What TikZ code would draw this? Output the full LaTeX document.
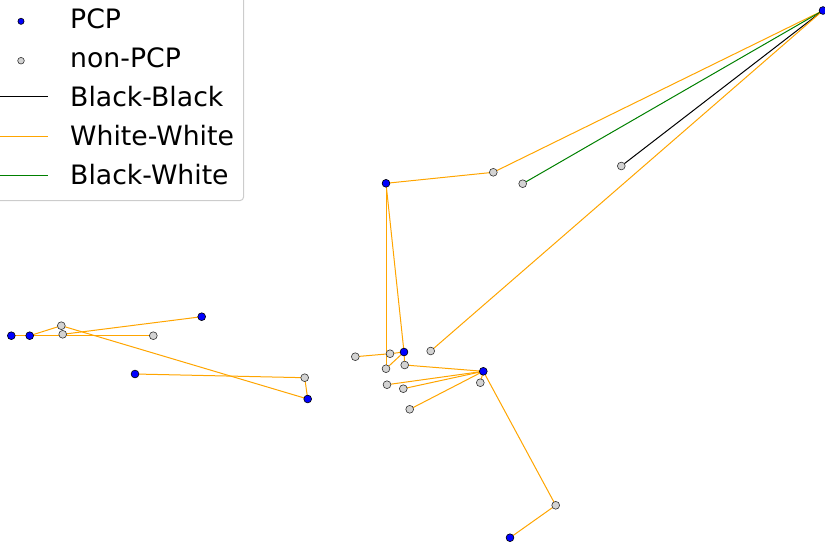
\documentclass[tikz,border=0pt]{standalone}
\usepackage{fontspec}
\setmainfont{DejaVu Sans}
\pgfdeclarelayer{background}
\pgfsetlayers{background,main}
\definecolor{ccpcp}{HTML}{0000FF}
\definecolor{ccnon}{HTML}{D3D3D3}
\definecolor{ccww}{HTML}{FFA500}
\definecolor{ccbw}{HTML}{008000}
\definecolor{ccbb}{HTML}{000000}
\definecolor{ccframe}{HTML}{CCCCCC}
\tikzset{
  pcp/.style={circle, fill=ccpcp, draw=black, line width=0.6pt, minimum size=7.8pt, inner sep=0pt},
  nonpcp/.style={circle, fill=ccnon, draw=black!80, line width=0.6pt, minimum size=7.8pt, inner sep=0pt},
  ww/.style={draw=ccww, line width=1pt},
  bw/.style={draw=ccbw, line width=1pt},
  bb/.style={draw=ccbb, line width=1pt},
  legtext/.style={anchor=base west, inner sep=0pt, font=\fontsize{26.7}{30}\selectfont},
}
\begin{document}
\begin{tikzpicture}[x=1pt, y=-1pt]
\useasboundingbox (0,0) rectangle (825,542);
\clip (0,0) rectangle (825,542);
% PCP nodes
\node[pcp] (A) at (823,10.5) {};
\node[pcp] (B) at (386,183.3) {};
\node[pcp] (C) at (404,352) {};
\node[pcp] (D) at (483.3,371.3) {};
\node[pcp] (E) at (510,537.7) {};
\node[pcp] (F) at (11.3,335.7) {};
\node[pcp] (G) at (29.7,335.7) {};
\node[pcp] (H) at (201.7,316.7) {};
\node[pcp] (I) at (135,374) {};
\node[pcp] (J) at (307.7,399) {};
% non-PCP nodes
\node[nonpcp] (a) at (493.3,172.3) {};
\node[nonpcp] (b) at (522.7,183.7) {};
\node[nonpcp] (c) at (621.3,166) {};
\node[nonpcp] (d) at (430.7,351) {};
\node[nonpcp] (e) at (355.3,356.7) {};
\node[nonpcp] (f) at (390,353.7) {};
\node[nonpcp] (g) at (386,368.7) {};
\node[nonpcp] (h) at (404.7,365) {};
\node[nonpcp] (i) at (387,384.7) {};
\node[nonpcp] (j) at (403.3,388.7) {};
\node[nonpcp] (k) at (409.7,409.3) {};
\node[nonpcp] (l) at (480.3,382.7) {};
\node[nonpcp] (m) at (555.7,505.3) {};
\node[nonpcp] (n) at (61.3,325.7) {};
\node[nonpcp] (o) at (62.7,334.3) {};
\node[nonpcp] (p) at (153.3,335.7) {};
\node[nonpcp] (q) at (304.7,377.7) {};
% edges
\begin{pgfonlayer}{background}
\draw[ww] (A.center) -- (a.center) -- (B.center);
\draw[bw] (A.center) -- (b.center);
\draw[bb] (A.center) -- (c.center);
\draw[ww] (A.center) -- (d.center);
\draw[ww] (B.center) -- (g.center);
\draw[ww] (B.center) -- (C.center);
\draw[ww] (e.center) -- (f.center) -- (C.center);
\draw[ww] (g.center) -- (C.center);
\draw[ww] (C.center) -- (h.center) -- (D.center);
\draw[ww] (i.center) -- (D.center);
\draw[ww] (j.center) -- (D.center);
\draw[ww] (k.center) -- (D.center);
\draw[ww] (l.center) -- (D.center);
\draw[ww] (D.center) -- (m.center) -- (E.center);
\draw[ww] (F.center) -- (G.center);
\draw[ww] (G.center) -- (n.center);
\draw[ww] (G.center) -- (p.center);
\draw[ww] (n.center) -- (J.center);
\draw[ww] (o.center) -- (H.center);
\draw[ww] (I.center) -- (q.center) -- (J.center);
\end{pgfonlayer}
% legend
\draw[draw=ccframe, line width=1pt, fill=white, fill opacity=0.8, rounded corners=4pt] (-6,-6) rectangle (243.7,200.7);
\node[pcp, minimum size=6.2pt] (lk1) at (21,21.3) {};
\node[nonpcp, minimum size=6.6pt] (lk2) at (21,60.7) {};
\coordinate (l3a) at (-6,96.7); \coordinate (l3b) at (48,96.7);
\coordinate (l4a) at (-6,136); \coordinate (l4b) at (48,136);
\coordinate (l5a) at (-6,175); \coordinate (l5b) at (48,175);
\draw[bb] (l3a) -- (l3b);
\draw[ww] (l4a) -- (l4b);
\draw[bw] (l5a) -- (l5b);
\node[legtext] (t1) at (70,28.3) {PCP};
\node[legtext] (t2) at (70,67.5) {non-PCP};
\node[legtext] (t3) at (70,106) {Black-Black};
\node[legtext] (t4) at (70,145.3) {White-White};
\node[legtext] (t5) at (70,184.3) {Black-White};
\end{tikzpicture}
\end{document}
